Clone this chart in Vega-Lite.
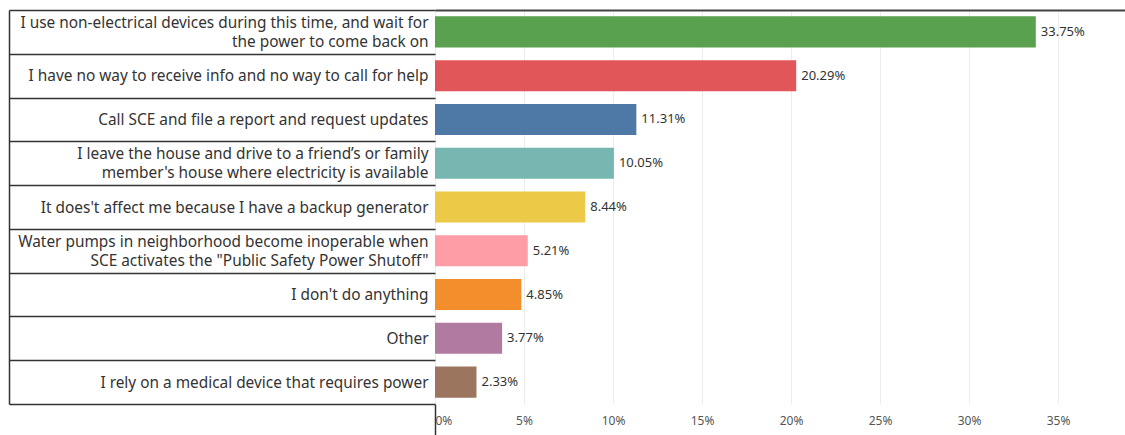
{
  "$schema": "https://vega.github.io/schema/vega-lite/v6.json",
  "width": 690,
  "height": 394,
  "autosize": {"type": "none"},
  "padding": {"left": 435, "top": 10, "right": 0, "bottom": 31},
  "background": "white",
  "config": {"view": {"stroke": null}, "font": "Noto Sans"},
  "data": {
    "values": [
      {"label": "I use non-electrical devices during this time, and wait for\nthe power to come back on", "pct": 0.3375},
      {"label": "I have no way to receive info and no way to call for help", "pct": 0.2029},
      {"label": "Call SCE and file a report and request updates", "pct": 0.1131},
      {"label": "I leave the house and drive to a friend’s or family\nmember's house where electricity is available", "pct": 0.1005},
      {"label": "It does't affect me because I have a backup generator", "pct": 0.0844},
      {"label": "Water pumps in neighborhood become inoperable when\nSCE activates the \"Public Safety Power Shutoff\"", "pct": 0.0521},
      {"label": "I don't do anything", "pct": 0.0485},
      {"label": "Other", "pct": 0.0377},
      {"label": "I rely on a medical device that requires power", "pct": 0.0233}
    ]
  },
  "layer": [
    {
      "mark": {"type": "bar", "height": {"band": 0.71}},
      "encoding": {
        "y": {
          "field": "label", "type": "nominal", "sort": null,
          "scale": {"paddingInner": 0, "paddingOuter": 0},
          "axis": {
            "title": null, "domain": false, "grid": false,
            "ticks": true, "tickBand": "extent", "tickSize": 426,
            "tickColor": "#333", "tickWidth": 1.5,
            "labelPadding": -419, "labelFontSize": 15.4, "labelColor": "#333",
            "labelLimit": 0, "labelLineHeight": 19.5,
            "labelOffset": {"condition": {"test": "indexof(datum.label, '\\n') >= 0", "value": -9.75}, "value": 0},
            "labelExpr": "split(datum.label, '\\n')"
          }
        },
        "x": {
          "field": "pct", "type": "quantitative",
          "scale": {"domain": [0, 0.3876], "nice": false, "zero": true},
          "axis": {
            "title": null, "orient": "bottom", "domain": false,
            "grid": true, "gridColor": "#ececec", "gridWidth": 1,
            "values": [0, 0.05, 0.1, 0.15, 0.2, 0.25, 0.3, 0.35],
            "format": ".0%",
            "ticks": true, "tickSize": 31, "tickWidth": 1.5,
            "tickColor": {"condition": {"test": "datum.value === 0", "value": "#333"}, "value": "transparent"},
            "labelPadding": -20, "labelFontSize": 12, "labelColor": "#555", "labelFlush": 1
          }
        },
        "color": {
          "field": "label", "type": "nominal", "legend": null,
          "scale": {
            "domain": [
              "I use non-electrical devices during this time, and wait for\nthe power to come back on",
              "I have no way to receive info and no way to call for help",
              "Call SCE and file a report and request updates",
              "I leave the house and drive to a friend’s or family\nmember's house where electricity is available",
              "It does't affect me because I have a backup generator",
              "Water pumps in neighborhood become inoperable when\nSCE activates the \"Public Safety Power Shutoff\"",
              "I don't do anything",
              "Other",
              "I rely on a medical device that requires power"
            ],
            "range": ["#59A14F", "#E15759", "#4E79A7", "#76B7B2", "#EDC948", "#FF9DA7", "#F28E2B", "#B07AA1", "#9C755F"]
          }
        }
      }
    },
    {
      "mark": {"type": "text", "align": "left", "baseline": "middle", "dx": 5, "fontSize": 13, "color": "#333"},
      "encoding": {
        "y": {
          "field": "label", "type": "nominal", "sort": null,
          "axis": {
            "title": null, "orient": "left", "offset": 426,
            "domain": true, "domainColor": "#333", "domainWidth": 1.5,
            "ticks": false, "labels": false, "grid": false
          }
        },
        "x": {
          "field": "pct", "type": "quantitative",
          "axis": {
            "title": null, "orient": "top", "domain": true,
            "domainColor": "#444", "domainWidth": 2,
            "ticks": false, "labels": false, "grid": false
          }
        },
        "text": {"field": "pct", "type": "quantitative", "format": ".2%"}
      }
    }
  ],
  "resolve": {"axis": {"x": "independent", "y": "independent"}}
}
